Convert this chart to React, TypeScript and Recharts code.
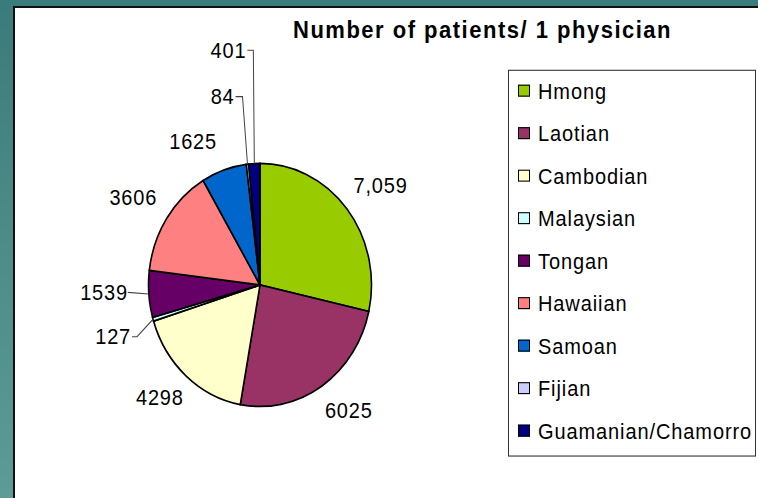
import React from 'react';
import { PieChart, Pie, Cell, Legend } from 'recharts';

const categories = ['Hmong', 'Laotian', 'Cambodian', 'Malaysian', 'Tongan', 'Hawaiian', 'Samoan', 'Fijian', 'Guamanian/Chamorro'];
const patientsPerPhysician = [7059, 6025, 4298, 127, 1539, 3606, 1625, 84, 401];
const valueLabels = ['7,059', '6025', '4298', '127', '1539', '3606', '1625', '84', '401'];
const sliceColors = ['#99CC00', '#993366', '#FFFFCC', '#CCFFFF', '#660066', '#FF8080', '#0066CC', '#CCCCFF', '#000080'];

const data = categories.map((name, i) => ({ name, value: patientsPerPhysician[i] }));

const SY = 1.0897;
const FONT = '"Liberation Sans", Arial, sans-serif';
const RAD = Math.PI / 180;

// label placement tweaks (relative to the slice edge point computed by the library)
const leaderLabels: Record<string, { dx: number; dy: number; gap: number }> = {
  'Guamanian/Chamorro': { dx: -1, dy: -104, gap: 7 },
  Fijian: { dx: -5, dy: -62, gap: 8 },
  Tongan: { dx: -21, dy: -1.5, gap: 0 },
  Malaysian: { dx: -16, dy: 16, gap: 6 },
};
const labelNudge: Record<string, { dx: number; dy: number }> = {
  Samoan: { dx: -18, dy: 5 },
  Laotian: { dx: 5, dy: 0 },
};

function textWidth(s: string) {
  let w = 0;
  for (const ch of s) w += (ch === ',' ? 0.278 : 0.556) * 20 + 0.8;
  return w;
}

function renderLabel(props: any) {
  const { cx, cy, midAngle, outerRadius, index } = props;
  const name = categories[index];
  const text = valueLabels[index];
  const ux = Math.cos(-midAngle * RAD);
  const uy = Math.sin(-midAngle * RAD);
  const style: React.CSSProperties = { fontFamily: FONT, fontSize: 20, letterSpacing: 0.8 };
  const leader = leaderLabels[name];
  if (leader) {
    const ex = cx + outerRadius * ux;
    const ey = cy + outerRadius * uy;
    const bx = ex + leader.dx;
    const by = ey + leader.dy;
    const tx = bx - leader.gap;
    return (
      <g key={`lbl-${index}`}>
        <polyline points={`${tx + 1},${by} ${bx},${by} ${ex},${ey}`} fill="none" stroke="#444" strokeWidth={1} />
        <text x={tx} y={by} textAnchor="end" dominantBaseline="central" fill="#000" style={style}>
          {text}
        </text>
      </g>
    );
  }
  const gap = 16;
  const halfW = textWidth(text) / 2;
  const halfH = 14;
  const nudge = labelNudge[name] || { dx: 0, dy: 0 };
  const px = cx + (outerRadius + gap) * ux + ux * halfW + nudge.dx;
  const py = cy + (outerRadius + gap) * uy + uy * halfH + nudge.dy - 2.8;
  return (
    <text key={`lbl-${index}`} x={px} y={py} textAnchor="middle" dominantBaseline="central" fill="#000" style={style}>
      {text}
    </text>
  );
}

function renderLegend() {
  return (
    <div
      style={{
        boxSizing: 'border-box',
        width: 248,
        height: 355,
        border: '1px solid #333',
        background: '#fff',
        paddingLeft: 9,
      }}
    >
      <div style={{ transform: 'translateY(-1.3px)' }}>
        {categories.map((c, i) => (
          <div key={c} style={{ height: 39, display: 'flex', alignItems: 'center' }}>
            <span
              style={{
                display: 'inline-block',
                width: 12,
                height: 11,
                background: sliceColors[i],
                border: '1px solid #000',
                boxSizing: 'border-box',
                marginRight: 8,
                flex: 'none',
              }}
            />
            <span style={{ fontFamily: FONT, fontSize: 20, letterSpacing: 0.9, color: '#000', lineHeight: '22px', whiteSpace: 'nowrap' }}>
              {c}
            </span>
          </div>
        ))}
      </div>
    </div>
  );
}

export default function App() {
  return (
    <div
      style={{
        position: 'fixed',
        left: 0,
        top: 0,
        width: 758,
        height: 498,
        overflow: 'hidden',
        background: 'linear-gradient(180deg, #3a7b7b 0%, #4d8c88 50%, #5b9c96 100%)',
      }}
    >
      <div
        style={{
          position: 'absolute',
          left: 13,
          top: 6,
          width: 800,
          height: 520,
          background: '#fff',
          borderLeft: '2px solid #111',
          borderTop: '2px solid #111',
        }}
      />
      <div
        style={{
          position: 'absolute',
          left: 0,
          top: 0,
          width: 758,
          height: 457,
          transform: `scaleY(${SY})`,
          transformOrigin: '0 0',
        }}
      >
        <div
          style={{
            position: 'absolute',
            left: 293,
            top: 16.5,
            fontFamily: FONT,
            fontWeight: 'bold',
            fontSize: 22,
            lineHeight: '22px',
            letterSpacing: 1.5,
            whiteSpace: 'nowrap',
            color: '#000',
          }}
        >
          Number of patients/ 1 physician
        </div>
        <PieChart width={758} height={457} margin={{ top: 0, right: 0, bottom: 0, left: 0 }}>
          <Pie
            data={data}
            dataKey="value"
            nameKey="name"
            cx={260}
            cy={261.5}
            outerRadius={111.5}
            startAngle={90}
            endAngle={-270}
            stroke="#000"
            strokeWidth={1.6}
            label={renderLabel}
            labelLine={false}
            isAnimationActive={false}
          >
            {data.map((d, i) => (
              <Cell key={d.name} fill={sliceColors[i]} />
            ))}
          </Pie>
          <Legend
            layout="vertical"
            align="right"
            verticalAlign="top"
            content={renderLegend}
            wrapperStyle={{ position: 'absolute', left: 508, top: 64, width: 248, height: 355 }}
          />
        </PieChart>
      </div>
    </div>
  );
}
